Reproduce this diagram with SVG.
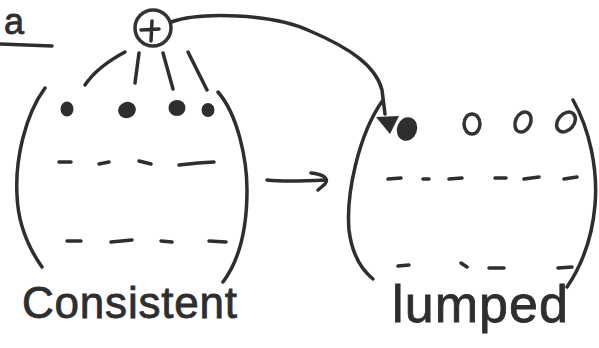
<svg xmlns="http://www.w3.org/2000/svg" width="599" height="348" viewBox="0 0 599 348">
<style>
.s{fill:none;stroke:#2e2e2e;stroke-width:3.5;stroke-linecap:round;stroke-linejoin:round}
.f{fill:#2e2e2e;stroke:none}
.o{fill:none;stroke:#333;stroke-width:3.5}
.t{font-family:"Liberation Sans","DejaVu Sans",sans-serif;fill:#2e2e2e;stroke:#2e2e2e;stroke-width:0.8}
</style>
<rect width="599" height="348" fill="#fff"/>
<g id="label-a">
<text class="t" x="4" y="34" font-size="36">a</text>
<path class="s" d="M0 44 L52 46" stroke-width="4"/>
</g>
<g id="plus">
<circle class="o" cx="153" cy="28" r="18"/>
<path class="s" d="M141 30 L159 29 M152 21 L151 41"/>
</g>
<g id="consistent">
<path class="s" d="M45 88 C25 115 15 160 17 195 C18 225 30 250 42 267"/>
<path class="s" d="M218 92 C238 115 247 160 247 190 C247 230 238 262 223 282"/>
<ellipse class="f" cx="67" cy="109" rx="6.5" ry="7.5"/>
<ellipse class="f" cx="127" cy="110" rx="9" ry="8" transform="rotate(-20 127 110)"/>
<ellipse class="f" cx="177" cy="108" rx="8.5" ry="8"/>
<ellipse class="f" cx="208" cy="110" rx="6.5" ry="7"/>
<path class="s" d="M59 162 L71 162 M99 164 L109 162 M139 161 L151 164 M179 165 L198 163 L214 162"/>
<path class="s" d="M67 241 L81 241 M111 242 L132 240 M161 241 L172 242 M209 241 L226 242"/>
<text class="t" x="22" y="318" font-size="44" textLength="215" lengthAdjust="spacing">Consistent</text>
</g>
<g id="lumped">
<path class="s" d="M383 100 C358 135 346 195 349 230 C352 255 362 270 373 279"/>
<path class="s" d="M573 100 C590 130 598 170 595 205 C592 240 582 265 567 287"/>
<ellipse class="f" cx="407" cy="129" rx="10" ry="12" transform="rotate(20 407 129)"/>
<ellipse class="o" cx="472" cy="124" rx="8" ry="10"/>
<ellipse class="o" cx="523" cy="122" rx="7.5" ry="10.5" transform="rotate(25 523 122)"/>
<ellipse class="o" cx="566" cy="122" rx="8" ry="11" transform="rotate(40 566 122)"/>
<path class="s" d="M388 179 L401 178 M423 179 L429 179 M449 179 L462 178 M495 178 L506 178 M524 179 L539 177 M564 179 L577 177"/>
<path class="s" d="M398 266 L409 265 M461 263 L467 267 M489 268 L504 268 M558 268 L572 267"/>
<text class="t" x="392" y="322" font-size="52" textLength="176" lengthAdjust="spacing">lumped</text>
</g>
<g id="connectors">
<path class="s" d="M85 85 C95 70 110 60 125 52"/>
<path class="s" d="M135 83 L139 53"/>
<path class="s" d="M173 89 L163 53"/>
<path class="s" d="M207 90 L188 52"/>
<path class="s" d="M171 22 C200 12 272 13 310 31 C350 48 376 66 382 90 L385 114"/>
<path class="f" d="M376 117 L399 116 L390 134 Z"/>
<path class="s" d="M267 180 C285 182 305 181 325 180"/>
<path class="s" d="M311 173 C322 174 330 178 325 184 L318 190"/>
</g>
</svg>
